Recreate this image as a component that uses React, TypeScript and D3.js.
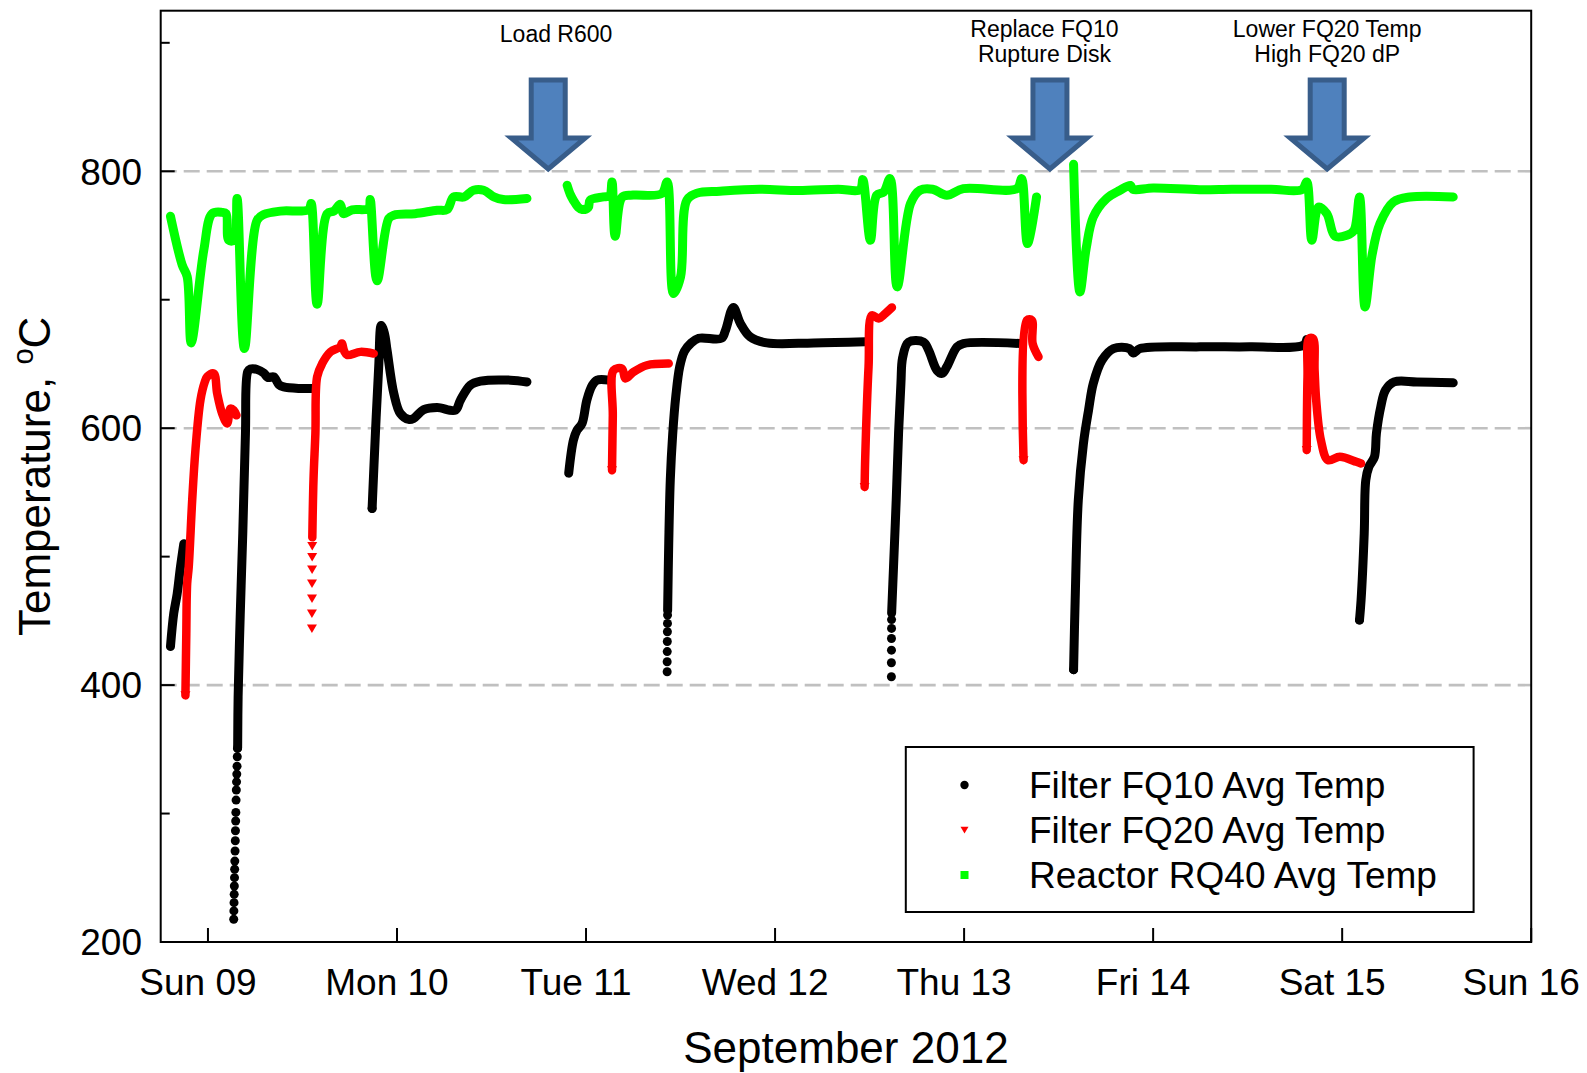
import React from "react";
import * as d3 from "d3";

type P = [number, number];

const W = 1587;
const H = 1073;
const PLOT = { left: 160.7, right: 1531.2, top: 10.7, bottom: 942 };

// Time reference: hours counted from Sun 09 Sep 2012 00:00
const baseDate = new Date(2012, 8, 9, 0);
const startDate = new Date(2012, 8, 8, 18);
const endDate = new Date(2012, 8, 16, 0);

const yDomain = [200, 925];
const yMajorTicks = [200, 400, 600, 800];
const yMinorTicks = [300, 500, 700, 900];
const gridValues = [400, 600, 800];
const dayOffsets = [0, 1, 2, 3, 4, 5, 6, 7];
const dayLabels = ["Sun 09", "Mon 10", "Tue 11", "Wed 12", "Thu 13", "Fri 14", "Sat 15", "Sun 16"];

const xTitle = "September 2012";
const seriesLabels = ["Filter FQ10 Avg Temp", "Filter FQ20 Avg Temp", "Reactor RQ40 Avg Temp"];

// Filter FQ10 (black) – dense runs
const fq10Lines: P[][] = [
  [[-4.76, 430], [-4.34, 456], [-3.91, 471], [-3.49, 492], [-3.07, 510]],
  [[3.77, 351], [3.83, 391], [4.1, 455], [4.42, 518], [4.76, 596], [5.05, 644], [5.39, 646], [6.24, 645.7], [7.08, 643], [7.6, 639.5], [8.35, 640], [9.0, 634], [9.62, 632.1], [11.74, 630.9], [13.43, 630.9]],
  [[20.84, 537.5], [21.26, 596], [21.68, 648], [22.0, 680], [22.4, 674], [22.74, 660.7], [23.6, 627], [24.43, 611.4], [25.5, 606.8], [26.1, 607.6], [27.4, 614.5], [29.1, 616.1], [31.4, 614], [32.05, 621.8], [33.3, 633.5], [34.6, 636.6], [38.4, 637.4], [40.5, 636]],
  [[45.8, 565], [46.4, 590.7], [46.86, 598.4], [47.5, 603.7], [48.1, 621.8], [48.8, 633.5], [49.4, 637.4], [50.9, 637.4]],
  [[58.36, 458], [58.5, 510], [58.7, 560], [59.0, 595], [59.4, 625], [59.9, 648], [60.5, 660], [61.3, 666], [62.3, 670], [65.2, 670], [65.7, 676], [66.7, 694], [67.6, 681.5], [68.85, 671], [70.97, 666.4], [76.9, 666.4], [83.45, 667.2]],
  [[86.8, 456], [87.04, 492], [87.38, 544], [87.68, 596], [87.98, 635], [88.2, 655], [88.95, 667], [90.85, 667], [91.5, 660.7], [92.55, 645.1], [93.2, 642.6], [93.8, 647.7], [95.1, 663.3], [95.9, 665.9], [103.1, 665.9]],
  [[109.9, 412], [110.1, 466], [110.5, 544], [111.15, 588], [111.8, 614], [112.4, 634.8], [113.5, 652.9], [114.96, 662], [117.0, 662], [117.5, 658.5], [118.35, 662], [125.97, 663.3], [132.3, 663.3], [139.1, 664.6], [139.5, 669]],
  [[146.2, 450.6], [146.4, 466], [146.8, 518], [147.0, 559.5], [147.4, 570], [148.1, 577.7], [148.35, 596], [148.9, 616.6], [149.5, 629.6], [150.6, 636], [153.5, 636], [158.1, 635.3]],
];

// Filter FQ10 – individually visible samples
const fq10Dots: P[] = [
  [3.27, 217.7], [3.29, 224.2], [3.31, 230.6], [3.33, 237.1], [3.35, 243.6], [3.37, 250.1], [3.39, 256.6], [3.41, 263.0], [3.44, 270.8], [3.47, 278.8],
  [3.49, 286.6], [3.52, 294.2], [3.54, 300.9], [3.57, 310.5], [3.6, 318.3], [3.63, 324.7], [3.66, 330.7], [3.69, 336.9], [3.72, 344.2], [3.75, 350.7],
  [20.84, 537.5],
  [58.3, 410.4], [58.3, 418.2], [58.31, 426.1], [58.32, 433.9], [58.33, 441.5], [58.34, 448], [58.35, 454.5],
  [86.77, 406.5], [86.77, 417.4], [86.78, 427.2], [86.78, 436.3], [86.79, 444.1], [86.79, 451],
  [109.9, 412], [146.2, 450.6],
];

// Filter FQ20 (red)
const fq20Lines: P[][] = [
  [[-2.86, 392], [-2.75, 440], [-2.64, 479], [-2.44, 492], [-2.0, 544], [-1.59, 583], [-0.95, 622], [-0.4, 636], [-0.1, 640], [0.74, 642.6], [1.17, 627], [1.8, 611.4], [2.44, 603.7], [2.86, 615.3], [3.27, 614], [3.62, 610]],
  [[13.25, 515], [13.4, 560], [13.64, 596], [13.86, 640], [14.5, 650.3], [15.55, 659.4], [16.8, 663.3], [17.0, 666], [17.3, 660], [17.67, 657], [19.35, 659.4], [21.04, 658.1]],
  [[51.3, 567.3], [51.4, 610], [51.5, 645.1], [52.57, 646.4], [53.0, 638.7], [54.04, 643.8], [55.74, 649], [58.5, 650.3]],
  [[83.37, 554.3], [83.45, 577.7], [83.87, 647.7], [84.3, 687.9], [85.14, 685.4], [86.0, 689.3], [86.84, 694]],
  [[103.55, 575.1], [103.97, 684], [104.6, 684], [104.7, 665.9], [105.45, 655.5]],
  [[139.5, 583], [139.6, 640], [139.8, 669.8], [140.3, 669.8], [140.5, 645], [140.7, 622], [141.3, 590.7], [142.2, 575.1], [143.7, 577.7], [145.8, 573.8], [146.4, 572.5]],
];

const fq20Dots: P[] = [
  [13.2, 444.1], [13.2, 455.8], [13.21, 467.5], [13.21, 479.1], [13.22, 490], [13.23, 499.8], [13.24, 508.2],
  [-2.86, 392], [51.3, 567.3], [83.37, 554.3], [103.55, 575.1], [139.5, 583],
];

// Reactor RQ40 (green)
const rq40Lines: P[][] = [
  [[-4.76, 765], [-3.27, 727], [-2.64, 718], [-2.13, 666.4], [-0.53, 738.5], [0.53, 767], [1.8, 768], [2.3, 767], [2.64, 746.3], [3.3, 746.3], [3.7, 778.8], [4.63, 662], [6.24, 761.9], [7.08, 766.3], [9.2, 769], [12.8, 770.2], [13.1, 774.9], [13.86, 696.5], [15.13, 767], [16.0, 769], [16.8, 774.3], [17.2, 767], [18.3, 770], [20.4, 771], [20.6, 778], [21.47, 714.7], [22.95, 763.2], [23.6, 765.8], [26.3, 767], [29.1, 769.6], [30.36, 770.2], [31.2, 780], [32.5, 780], [33.7, 785.2], [35, 785.2], [36.3, 780], [37.5, 778], [40.5, 778.8]],
  [[45.6, 789.1], [46.0, 782], [46.4, 777.4], [47.0, 772], [47.5, 770.2], [48.3, 772], [48.5, 777.4], [50.2, 780], [51.0, 781], [51.3, 791.7], [51.7, 749.4], [52.6, 780], [54.0, 781.5], [57.6, 782.6], [58.3, 791.7], [59.1, 704.8], [60.0, 717.8], [60.8, 777.4], [62.1, 783], [65.0, 784.5], [70.0, 786], [75, 785], [80, 786], [82.8, 785.7], [83.15, 793.5], [84.1, 746.3], [84.9, 781.3], [85.8, 783.9], [86.6, 794.3], [87.5, 710], [89.2, 774.9], [90.4, 785.2], [92.0, 786], [93.8, 781.3], [95.9, 786.5], [102.7, 786.5], [103.3, 794.3], [104.05, 743.7], [105.2, 780]],
  [[109.9, 805.4], [110.7, 706.1], [111.5, 740], [112.4, 764.4], [114.1, 778.8], [115.8, 785.2], [117.1, 789], [117.4, 786], [120, 787], [125.9, 785.7], [130, 786], [135, 786], [138.9, 785.7], [139.5, 791.7], [140.15, 746.3], [141, 772.2], [142.05, 767], [143.1, 749.4], [144.6, 750.2], [145.5, 754], [146.2, 780], [146.9, 694.4], [147.8, 735], [148.8, 759.3], [150.5, 776.1], [152.6, 780], [158.1, 780]],
];

// Annotations: event time (hours) for arrows, text centre time and lines of text
const arrowTimes = [43.2, 106.9, 142.1];
const noteTimes = [44.2, 106.2, 142.1];
const noteTexts = [["Load R600"], ["Replace FQ10", "Rupture Disk"], ["Lower FQ20 Temp", "High FQ20 dP"]];

const FONT = "'Liberation Sans', Arial, Helvetica, sans-serif";

const toDate = (h: number) => new Date(baseDate.getTime() + h * 3600000);

export default function App() {
  const x = d3.scaleTime().domain([startDate, endDate]).range([PLOT.left, PLOT.right]);
  const y = d3.scaleLinear().domain(yDomain).range([PLOT.bottom, PLOT.top]);
  const line = d3
    .line<P>()
    .x((d) => x(toDate(d[0])))
    .y((d) => y(d[1]))
    .curve(d3.curveCatmullRom.alpha(0.5));

  const tri = (cx: number, cy: number, s = 1) =>
    `M${cx - 5 * s},${cy - 4 * s}L${cx + 5 * s},${cy - 4 * s}L${cx},${cy + 4.5 * s}Z`;

  const arrowPath = (cx: number) =>
    `M${cx - 17},80L${cx + 17},80L${cx + 17},138L${cx + 37},138L${cx},169L${cx - 37},138L${cx - 17},138Z`;

  const dayDates = dayOffsets.map((d) => new Date(2012, 8, 9 + d));

  return (
    <svg
      width={W}
      height={H}
      viewBox={`0 0 ${W} ${H}`}
      style={{ position: "absolute", left: 0, top: 0, background: "#fff" }}
      fontFamily={FONT}
    >
      <rect x={0} y={0} width={W} height={H} fill="#fff" />

      {/* grid */}
      {gridValues.map((v) => (
        <line
          key={"g" + v}
          x1={PLOT.left}
          x2={PLOT.right}
          y1={y(v)}
          y2={y(v)}
          stroke="#c0c0c0"
          strokeWidth={2.6}
          strokeDasharray="16 7"
        />
      ))}

      {/* FQ10 black */}
      <g>
        {fq10Lines.map((seg, i) => (
          <path key={"b" + i} d={line(seg) || ""} fill="none" stroke="#000" strokeWidth={9} strokeLinejoin="round" strokeLinecap="round" />
        ))}
        {fq10Dots.map((d, i) => (
          <circle key={"bd" + i} cx={x(toDate(d[0]))} cy={y(d[1])} r={4.5} fill="#000" />
        ))}
      </g>

      {/* FQ20 red */}
      <g>
        {fq20Lines.map((seg, i) => (
          <path key={"r" + i} d={line(seg) || ""} fill="none" stroke="#ff0000" strokeWidth={8.5} strokeLinejoin="round" strokeLinecap="round" />
        ))}
        {fq20Dots.map((d, i) => (
          <path key={"rd" + i} d={tri(x(toDate(d[0])), y(d[1]))} fill="#ff0000" />
        ))}
      </g>

      {/* RQ40 green */}
      <g>
        {rq40Lines.map((seg, i) => (
          <path key={"gr" + i} d={line(seg) || ""} fill="none" stroke="#00ff00" strokeWidth={9} strokeLinejoin="round" strokeLinecap="round" />
        ))}
      </g>

      {/* frame */}
      <rect
        x={PLOT.left}
        y={PLOT.top}
        width={PLOT.right - PLOT.left}
        height={PLOT.bottom - PLOT.top}
        fill="none"
        stroke="#000"
        strokeWidth={2}
      />

      {/* y ticks */}
      {yMajorTicks.map((v) => (
        <g key={"ym" + v}>
          <line x1={PLOT.left} x2={PLOT.left + 14} y1={y(v)} y2={y(v)} stroke="#000" strokeWidth={2} />
          <text x={142} y={y(v) + 13.3} textAnchor="end" fontSize={37} fill="#000">
            {v}
          </text>
        </g>
      ))}
      {yMinorTicks.map((v) => (
        <line key={"yn" + v} x1={PLOT.left} x2={PLOT.left + 9} y1={y(v)} y2={y(v)} stroke="#000" strokeWidth={2} />
      ))}

      {/* x ticks */}
      {dayDates.map((d, i) => (
        <g key={"x" + i}>
          <line x1={x(d)} x2={x(d)} y1={PLOT.bottom} y2={PLOT.bottom - 14} stroke="#000" strokeWidth={2} />
          <text x={x(d) - 10} y={995} textAnchor="middle" fontSize={37} fill="#000">
            {dayLabels[i]}
          </text>
        </g>
      ))}

      {/* axis titles */}
      <text x={(PLOT.left + PLOT.right) / 2} y={1063} textAnchor="middle" fontSize={44} fill="#000">
        {xTitle}
      </text>
      <text transform={`translate(50, ${(PLOT.top + PLOT.bottom) / 2}) rotate(-90)`} textAnchor="middle" fontSize={44} fill="#000">
        Temperature,{" "}
        <tspan fontSize={29} dy={-17}>o</tspan>
        <tspan dy={17}>C</tspan>
      </text>

      {/* annotations */}
      {arrowTimes.map((t, i) => (
        <path key={"a" + i} d={arrowPath(x(toDate(t)))} fill="#4f81bd" stroke="#385d8a" strokeWidth={5} strokeLinejoin="miter" />
      ))}
      {noteTexts.map((lines, i) => {
        const cx = x(toDate(noteTimes[i]));
        const y0 = lines.length === 1 ? 42 : 36.5;
        return (
          <text key={"n" + i} x={cx} y={y0} textAnchor="middle" fontSize={23} fill="#000">
            {lines.map((l, j) => (
              <tspan key={j} x={cx} y={y0 + j * 25.5}>
                {l}
              </tspan>
            ))}
          </text>
        );
      })}

      {/* legend */}
      <rect x={905.8} y={747} width={567.8} height={165} fill="#fff" stroke="#000" strokeWidth={2} />
      <circle cx={964.5} cy={785} r={4.2} fill="#000" />
      <path d={tri(964.5, 830, 0.8)} fill="#ff0000" />
      <rect x={960.5} y={871} width={8} height={8} fill="#00ff00" />
      {seriesLabels.map((s, i) => (
        <text key={"l" + i} x={1029} y={798 + i * 44.8} fontSize={37} fill="#000">
          {s}
        </text>
      ))}
    </svg>
  );
}
